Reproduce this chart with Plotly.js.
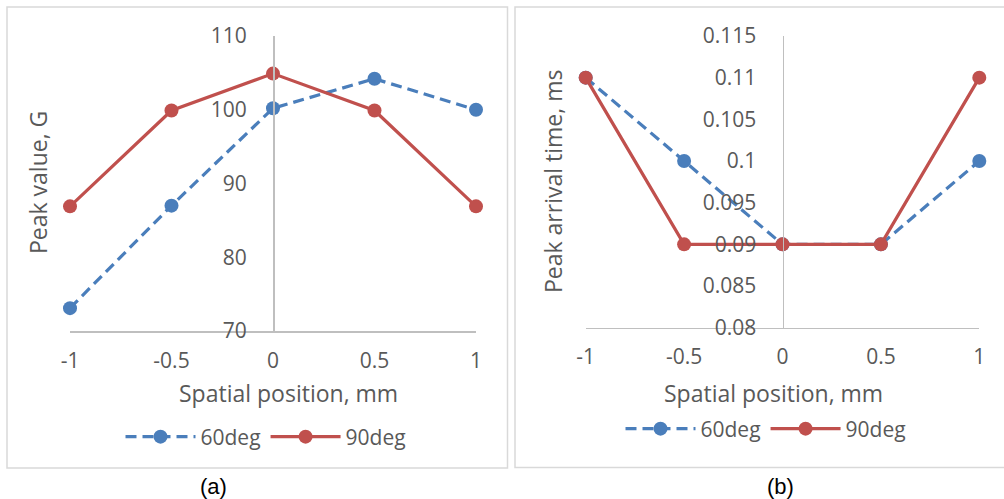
<!DOCTYPE html>
<html>
<head>
<meta charset="utf-8">
<script src="https://cdn.plot.ly/plotly-3.0.1.min.js"></script>
<style>html,body{margin:0;padding:0;background:#fff;}#chart{width:1004px;height:499px;}</style>
</head>
<body>
<div id="chart"></div>
<script>
// Data
const positions = [-1, -0.5, 0, 0.5, 1];
const peakValue60 = [73.1, 87.0, 100.2, 104.2, 100.0];
const peakValue90 = [86.9, 99.9, 104.9, 99.9, 86.9];
const arrival60 = [0.11, 0.10, 0.09, 0.09, 0.10];
const arrival90 = [0.11, 0.09, 0.09, 0.09, 0.11];
const seriesNames = ['60deg', '90deg'];
const xTickVals = [-1, -0.5, 0, 0.5, 1];
const xTickText = ['-1', '-0.5', '0', '0.5', '1'];
const yTicksA = [70, 80, 90, 100, 110];
const yTicksB = [0.08, 0.085, 0.09, 0.095, 0.1, 0.105, 0.11, 0.115];
const yTickTextB = ['0.08', '0.085', '0.09', '0.095', '0.1', '0.105', '0.11', '0.115'];
const xTitle = 'Spatial position, mm';
const yTitleA = 'Peak value, G';
const yTitleB = 'Peak arrival time, ms';

const W = 1004, H = 499;
const BLUE = '#4A7EBB', RED = '#C0504D', GREY = '#BFBFBF', TXT = '#595959';
const FONT = 'Open Sans, Liberation Sans, sans-serif';

const px = v => v / W;
const py = v => 1 - v / H;

function blueTrace(x, y, xa, ya, lg) {
  return {x, y, xaxis: xa, yaxis: ya, type: 'scatter', mode: 'lines+markers', name: seriesNames[0],
    legend: lg, cliponaxis: false,
    line: {color: BLUE, width: 3.2, dash: '11px,6px'},
    marker: {color: BLUE, size: 14}};
}
function redTrace(x, y, xa, ya, lg) {
  return {x, y, xaxis: xa, yaxis: ya, type: 'scatter', mode: 'lines+markers', name: seriesNames[1],
    legend: lg, cliponaxis: false,
    line: {color: RED, width: 3.2},
    marker: {color: RED, size: 14}};
}

const data = [
  blueTrace(positions, peakValue60, 'x', 'y', 'legend'),
  redTrace(positions, peakValue90, 'x', 'y', 'legend'),
  blueTrace(positions, arrival60, 'x2', 'y2', 'legend2'),
  redTrace(positions, arrival90, 'x2', 'y2', 'legend2')
];

const xDomA = [px(70), px(476)];
const xDomB = [px(585.7), px(979.3)];
const yDomA = [py(331), py(36)];
const yDomB = [py(327.7), py(36)];

function xAxis(dom, anchor) {
  return {domain: dom, anchor: anchor, range: [-1, 1], tickvals: xTickVals, ticktext: xTickText,
    showgrid: false, zeroline: false, showline: true, linecolor: GREY, linewidth: 1.5,
    ticks: '', ticklabelstandoff: 10,
    tickfont: {family: FONT, size: 21, color: TXT}};
}
function yAxis(dom, range, tickvals, ticktext, pos) {
  const ax = {domain: dom, anchor: 'free', position: pos, range: range, tickvals: tickvals,
    showgrid: false, zeroline: false, showline: true, linecolor: GREY, linewidth: 1.5,
    ticks: '', ticklabelstandoff: 22,
    tickfont: {family: FONT, size: 21, color: TXT}};
  if (ticktext) ax.ticktext = ticktext;
  return ax;
}

const legendCommon = {orientation: 'h', xanchor: 'center', yanchor: 'middle', itemwidth: 70,
  font: {family: FONT, size: 21, color: TXT}, bgcolor: 'rgba(0,0,0,0)', itemclick: false};

function txt(text, x, y, size, angle, color, family) {
  return {text: text, xref: 'paper', yref: 'paper', x: px(x), y: py(y), textangle: angle || 0,
    showarrow: false, xanchor: 'center', yanchor: 'middle',
    font: {family: family || FONT, size: size, color: color || TXT}};
}

const layout = {
  width: W, height: H,
  margin: {l: 0, r: 0, t: 0, b: 0},
  paper_bgcolor: '#fff', plot_bgcolor: 'rgba(0,0,0,0)',
  showlegend: true,
  xaxis: xAxis(xDomA, 'y'),
  yaxis: yAxis(yDomA, [70, 110], yTicksA, null, (xDomA[0] + xDomA[1]) / 2),
  xaxis2: xAxis(xDomB, 'y2'),
  yaxis2: yAxis(yDomB, [0.08, 0.115], yTicksB, yTickTextB, (xDomB[0] + xDomB[1]) / 2),
  legend: Object.assign({}, legendCommon, {x: px(266), y: py(437)}),
  legend2: Object.assign({}, legendCommon, {x: px(766), y: py(429)}),
  shapes: [
    {type: 'rect', xref: 'paper', yref: 'paper', x0: px(7), x1: px(507.5), y0: py(468), y1: py(7),
      line: {color: '#D9D9D9', width: 1.5}, layer: 'below'},
    {type: 'rect', xref: 'paper', yref: 'paper', x0: px(515), x1: px(1010), y0: py(467.5), y1: py(7),
      line: {color: '#D9D9D9', width: 1.5}, layer: 'below'}
  ],
  annotations: [
    txt(xTitle, 288, 393, 23),
    txt(xTitle, 773, 393, 23),
    txt(yTitleA, 38, 183, 23, -90),
    txt(yTitleB, 553, 182, 23, -90),
    txt('(a)', 213, 486, 22, 0, '#000', 'Liberation Sans, Arial, sans-serif'),
    txt('(b)', 780, 486, 22, 0, '#000', 'Liberation Sans, Arial, sans-serif')
  ]
};

Plotly.newPlot('chart', data, layout, {displayModeBar: false, staticPlot: true});
</script>
</body>
</html>
